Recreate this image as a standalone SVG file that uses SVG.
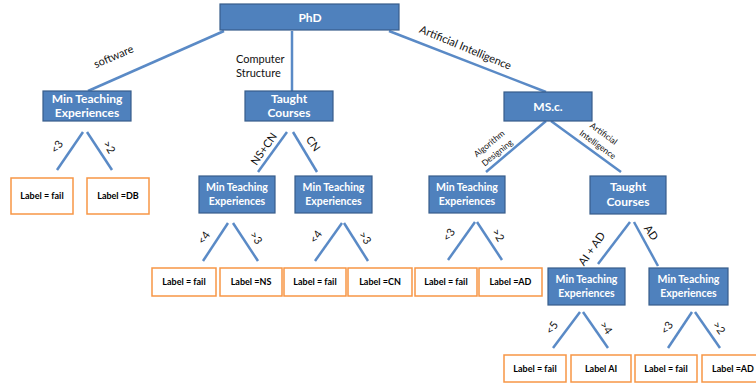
<svg xmlns="http://www.w3.org/2000/svg" width="756" height="387" viewBox="0 0 756 387">
<style>
.n{fill:#4F81BD;stroke:#385D8A;stroke-width:1.2}
.l{fill:#fff;stroke:#F79646;stroke-width:1.5}
.nt{font-family:Lato,"Open Sans","Liberation Sans",sans-serif;font-weight:bold;fill:#fff;text-anchor:middle}
.lt{font-family:Lato,"Open Sans","Liberation Sans",sans-serif;font-weight:bold;fill:#000;font-size:9px;text-anchor:middle}
.e{font-family:Lato,"Open Sans","Liberation Sans",sans-serif;fill:#111;font-size:11px;text-anchor:middle}
.s{font-size:8.5px}
#edges line{stroke:#5A8AC6;stroke-width:2.5}
</style>
<rect width="756" height="387" fill="#fff"/>
<g id="edges">
<line x1="224" y1="31" x2="88" y2="91"/>
<line x1="292" y1="31" x2="292" y2="91"/>
<line x1="389" y1="31" x2="546" y2="92"/>
<line x1="83" y1="132" x2="57" y2="170"/>
<line x1="87" y1="132" x2="112" y2="170"/>
<line x1="287" y1="132" x2="258" y2="172"/>
<line x1="293" y1="132" x2="317" y2="172"/>
<line x1="228" y1="223" x2="203" y2="261"/>
<line x1="233" y1="223" x2="258" y2="261"/>
<line x1="342" y1="223" x2="315" y2="261"/>
<line x1="344" y1="223" x2="368" y2="261"/>
<line x1="546" y1="121" x2="486" y2="172"/>
<line x1="551" y1="121" x2="621" y2="172"/>
<line x1="475" y1="222" x2="448" y2="260"/>
<line x1="477" y1="222" x2="502" y2="260"/>
<line x1="630" y1="222" x2="598" y2="264"/>
<line x1="634" y1="222" x2="658" y2="266"/>
<line x1="580" y1="312" x2="553" y2="348"/>
<line x1="583" y1="312" x2="608" y2="348"/>
<line x1="692" y1="312" x2="668" y2="348"/>
<line x1="695" y1="312" x2="720" y2="348"/>
</g>
<g id="edge-labels">
<text class="e" transform="translate(115,60) rotate(-23)">software</text>
<text class="e" x="236" y="63" style="text-anchor:start">Computer</text>
<text class="e" x="236" y="77" style="text-anchor:start">Structure</text>
<text class="e" transform="translate(464,51) rotate(22.5)">Artificial Intelligence</text>
<text class="e" transform="translate(60,149) rotate(-55)">&lt;3</text>
<text class="e" transform="translate(106,149) rotate(60)">&gt;2</text>
<text class="e" transform="translate(267,151) rotate(-55)">NS+CN</text>
<text class="e" transform="translate(310,146) rotate(55)">CN</text>
<text class="e" transform="translate(207,240) rotate(-55)">&lt;4</text>
<text class="e" transform="translate(253,240) rotate(55)">&gt;3</text>
<text class="e" transform="translate(319,239) rotate(-55)">&lt;4</text>
<text class="e" transform="translate(362,240) rotate(55)">&gt;3</text>
<text class="e s" transform="translate(491,146) rotate(-39)">Algorithm</text>
<text class="e s" transform="translate(499,155) rotate(-39)">Designing</text>
<text class="e s" transform="translate(602,136) rotate(36)">Artificial</text>
<text class="e s" transform="translate(596,147) rotate(36)">Intelligence</text>
<text class="e" transform="translate(452,237) rotate(-55)">&lt;3</text>
<text class="e" transform="translate(495,237) rotate(60)">&gt;2</text>
<text class="e" transform="translate(595,251) rotate(-55)">AI + AD</text>
<text class="e" transform="translate(648,235) rotate(55)">AD</text>
<text class="e" transform="translate(555,330) rotate(-55)">&lt;5</text>
<text class="e" transform="translate(603,330) rotate(55)">&gt;4</text>
<text class="e" transform="translate(670,330) rotate(-55)">&lt;3</text>
<text class="e" transform="translate(716,330) rotate(55)">&gt;2</text>
</g>
<g id="phd"><rect class="n" x="220" y="4" width="179" height="26"/><text class="nt" x="310" y="22" font-size="12">PhD</text></g>
<g id="mt1"><rect class="n" x="43" y="91" width="88" height="30"/><text class="nt" x="87" y="103" font-size="12">Min Teaching</text><text class="nt" x="87" y="117" font-size="12">Experiences</text></g>
<g id="tc1"><rect class="n" x="245" y="91" width="88" height="30"/><text class="nt" x="289" y="103" font-size="12">Taught</text><text class="nt" x="289" y="117" font-size="12">Courses</text></g>
<g id="msc"><rect class="n" x="504" y="92" width="88" height="29"/><text class="nt" x="548" y="111" font-size="12">MS.c.</text></g>
<g id="leaf1"><rect class="l" x="11" y="178" width="62" height="36"/><text class="lt" x="42" y="199">Label = fail</text></g>
<g id="leaf2"><rect class="l" x="87" y="178" width="62" height="36"/><text class="lt" x="118" y="199">Label =DB</text></g>
<g id="mt2"><rect class="n" x="199" y="176" width="76" height="37"/><text class="nt" x="237" y="191" font-size="10.5">Min Teaching</text><text class="nt" x="237" y="205" font-size="10.5">Experiences</text></g>
<g id="mt3"><rect class="n" x="295" y="176" width="77" height="37"/><text class="nt" x="333.5" y="191" font-size="10.5">Min Teaching</text><text class="nt" x="333.5" y="205" font-size="10.5">Experiences</text></g>
<g id="mt4"><rect class="n" x="429" y="176" width="76" height="37"/><text class="nt" x="467" y="191" font-size="10.5">Min Teaching</text><text class="nt" x="467" y="205" font-size="10.5">Experiences</text></g>
<g id="tc2"><rect class="n" x="590" y="176" width="76" height="38"/><text class="nt" x="628" y="191" font-size="12">Taught</text><text class="nt" x="628" y="206" font-size="12">Courses</text></g>
<g id="leaf3"><rect class="l" x="152" y="268" width="64" height="28"/><text class="lt" x="184" y="285">Label = fail</text></g>
<g id="leaf4"><rect class="l" x="220" y="268" width="62" height="28"/><text class="lt" x="251" y="285">Label =NS</text></g>
<g id="leaf5"><rect class="l" x="284" y="268" width="62" height="28"/><text class="lt" x="315" y="285">Label = fail</text></g>
<g id="leaf6"><rect class="l" x="348" y="268" width="64" height="28"/><text class="lt" x="380" y="285">Label =CN</text></g>
<g id="leaf7"><rect class="l" x="415" y="268" width="62" height="28"/><text class="lt" x="446" y="285">Label = fail</text></g>
<g id="leaf8"><rect class="l" x="479" y="268" width="63" height="28"/><text class="lt" x="510.5" y="285">Label =AD</text></g>
<g id="mt5"><rect class="n" x="548" y="268" width="77" height="37"/><text class="nt" x="586.5" y="283" font-size="10.5">Min Teaching</text><text class="nt" x="586.5" y="297" font-size="10.5">Experiences</text></g>
<g id="mt6"><rect class="n" x="649" y="268" width="79" height="37"/><text class="nt" x="688.5" y="283" font-size="10.5">Min Teaching</text><text class="nt" x="688.5" y="297" font-size="10.5">Experiences</text></g>
<g id="leaf9"><rect class="l" x="504" y="355" width="62" height="27"/><text class="lt" x="535" y="372">Label = fail</text></g>
<g id="leaf10"><rect class="l" x="571" y="355" width="60" height="27"/><text class="lt" x="601" y="372">Label AI</text></g>
<g id="leaf11"><rect class="l" x="635" y="355" width="62" height="27"/><text class="lt" x="666" y="372">Label = fail</text></g>
<g id="leaf12"><rect class="l" x="702" y="355" width="62" height="27"/><text class="lt" x="733" y="372">Label =AD</text></g>
</svg>
